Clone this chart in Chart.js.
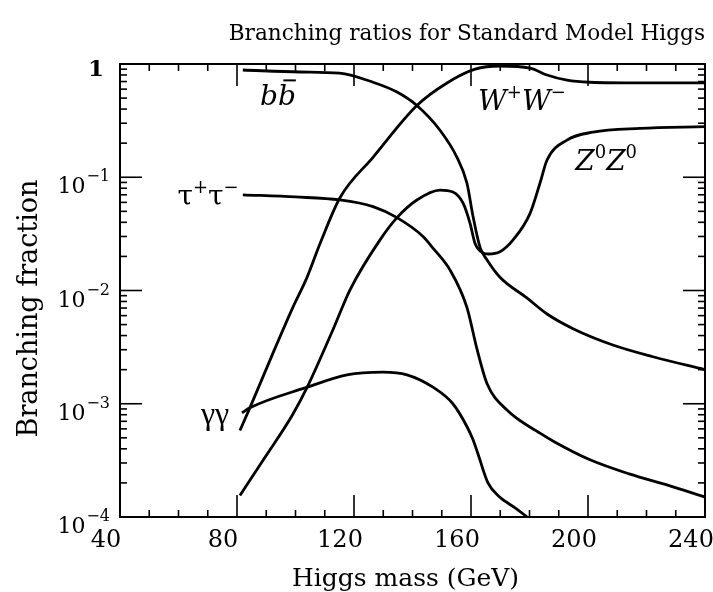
<!DOCTYPE html>
<html><head><meta charset="utf-8">
<script src="https://cdn.jsdelivr.net/npm/chart.js@4/dist/chart.umd.min.js"></script>
<style>html,body{margin:0;padding:0;background:#fff;overflow:hidden}</style>
</head><body>
<canvas id="c" width="713" height="592"></canvas>
<script>
// ---------- data ----------
const chartTitle = "Branching ratios for Standard Model Higgs";
const xTitle = "Higgs mass (GeV)";
const yTitle = "Branching fraction";
const xTickValues = [40, 80, 120, 160, 200, 240];
const yDecades = [1e-4, 1e-3, 1e-2, 1e-1, 1];
const yDecadeExps = ["−4", "−3", "−2", "−1", ""];

const bbMass = [82, 101.5, 115, 126.5, 134.7, 141.5, 149.4, 155.2, 158.6, 160.7, 163.1, 165.5, 169.9, 179.1, 186, 194.9, 208.5, 222.2, 240];
const bbBR   = [0.885, 0.85, 0.83, 0.69, 0.565, 0.43, 0.26, 0.15, 0.089, 0.045, 0.024, 0.0186, 0.0131, 0.0086, 0.0062, 0.0046, 0.0033, 0.0026, 0.0020];

const wwMass = [81, 84.4, 92.3, 99.1, 103.9, 108.4, 115.2, 126.5, 141.5, 151.8, 161.4, 169.9, 180.2, 186, 192.8, 200.7, 217.8, 240];
const wwBR   = [5.8e-4, 9.2e-4, 2.8e-3, 7.1e-3, 0.013, 0.026, 0.066, 0.15, 0.43, 0.68, 0.90, 0.96, 0.92, 0.80, 0.72, 0.69, 0.68, 0.68];

const zzMass = [81, 89.7, 99, 104, 112.8, 118.6, 128.9, 134.7, 141.5, 149.4, 153.8, 157.3, 159.7, 161.4, 164.1, 166, 169.9, 174.4, 180.2, 183.6, 186, 192.8, 201.7, 217.8, 240];
const zzBR   = [1.55e-4, 3.4e-4, 8.0e-4, 1.4e-3, 4.5e-3, 0.0101, 0.028, 0.044, 0.063, 0.077, 0.074, 0.059, 0.039, 0.026, 0.0215, 0.021, 0.022, 0.028, 0.048, 0.089, 0.142, 0.213, 0.25, 0.27, 0.28];

const tauMass = [82, 100, 115.2, 126.5, 134.7, 143.6, 147, 152.8, 158.6, 162.1, 165.5, 172.3, 183.6, 188.6, 200.7, 214.1, 227.5, 240];
const tauBR   = [0.070, 0.067, 0.063, 0.055, 0.044, 0.030, 0.0237, 0.0152, 0.0071, 0.0030, 0.0015, 8.8e-4, 5.5e-4, 4.6e-4, 3.2e-4, 2.4e-4, 1.9e-4, 1.5e-4];

const gamMass = [81.7, 84.4, 104, 117.6, 129.9, 138.1, 147, 153.8, 158.6, 160.7, 162.4, 165.8, 169.8, 175.2, 179.2];
const gamBR   = [8.3e-4, 9.2e-4, 1.4e-3, 1.8e-3, 1.9e-3, 1.8e-3, 1.4e-3, 1.0e-3, 6.3e-4, 4.8e-4, 3.6e-4, 2.0e-4, 1.5e-4, 1.2e-4, 1.0e-4];

// curve labels: "^" = next char superscript, "~" = next char overlined
const curveLabels = ["b~b", "W^+W^−", "Z^0Z^0", "τ^+τ^−", "γγ"];
const labelMass   = [94, 177.4, 206.2, 70.1, 72.5];
const labelBR     = [0.53, 0.48, 0.142, 0.0697, 8.4e-4];
const labelItalic = [true, true, true, false, false];

// ---------- chart ----------
const SERIF = '"DejaVu Serif", serif';
const TIMES = '"Liberation Serif", serif';
const pts = (m, b) => m.map((v, i) => ({x: v, y: b[i]}));
const series = [pts(bbMass, bbBR), pts(wwMass, wwBR), pts(zzMass, zzBR), pts(tauMass, tauBR), pts(gamMass, gamBR)];

function drawRich(ctx, str, cx, cy, size, italic, family) {
  const tokens = [];
  for (let i = 0; i < str.length; i++) {
    const ch = str[i];
    if (ch === '^') { tokens.push({t: str[++i], sup: true}); }
    else if (ch === '~') { tokens.push({t: str[++i], bar: true}); }
    else tokens.push({t: ch});
  }
  const mainF = (italic ? 'italic ' : '') + size + 'px ' + family;
  const supF = Math.round(size * 0.65) + 'px ' + family;
  let total = 0;
  tokens.forEach(tk => { ctx.font = tk.sup ? supF : mainF; tk.w = ctx.measureText(tk.t).width; total += tk.w; });
  let x = cx - total / 2;
  const base = cy + size * 0.35;
  ctx.textAlign = 'left'; ctx.textBaseline = 'alphabetic';
  tokens.forEach(tk => {
    ctx.font = tk.sup ? supF : mainF;
    ctx.fillText(tk.t, x, tk.sup ? base - size * 0.42 : base);
    if (tk.bar) {
      ctx.beginPath(); ctx.lineWidth = 2;
      ctx.moveTo(x + tk.w * 0.3, base - size * 0.88); ctx.lineTo(x + tk.w * 1.0, base - size * 0.88); ctx.stroke();
    }
    x += tk.w;
  });
}

const deco = {
  id: 'deco',
  afterDraw(chart) {
    const {ctx, chartArea: a, scales: {x, y}} = chart;
    ctx.save();
    ctx.strokeStyle = '#000'; ctx.fillStyle = '#000';
    const seg = (x1, y1, x2, y2) => { ctx.beginPath(); ctx.moveTo(x1, y1); ctx.lineTo(x2, y2); ctx.stroke(); };
    // frame
    ctx.lineWidth = 2;
    ctx.strokeRect(a.left, a.top, a.right - a.left, a.bottom - a.top);
    // x ticks (minor every 10, major every 40)
    ctx.lineWidth = 1.6;
    for (let m = x.min; m <= x.max; m += 10) {
      const px = x.getPixelForValue(m);
      const len = ((m - x.min) % 40 === 0) ? 22 : 7;
      seg(px, a.bottom, px, a.bottom - len);
      seg(px, a.top, px, a.top + len);
    }
    // y ticks
    for (let e = -4; e <= 0; e++) {
      for (let k = 1; k <= 9; k++) {
        const v = k * Math.pow(10, e);
        if (v > 1.0000001) break;
        const py = y.getPixelForValue(v);
        const len = k === 1 ? 22 : 7;
        seg(a.left, py, a.left + len, py);
        seg(a.right, py, a.right - len, py);
      }
    }
    // y tick labels
    ctx.textBaseline = 'alphabetic';
    yDecades.forEach((v, i) => {
      const py = y.getPixelForValue(v);
      const exp = yDecadeExps[i];
      const rightX = a.left - 10;
      if (!exp) {
        ctx.font = 'bold 23px ' + SERIF; ctx.textAlign = 'right';
        ctx.fillText('1', rightX - 6, py + 12);
        return;
      }
      ctx.font = '16px ' + SERIF;
      const ew = ctx.measureText(exp).width;
      ctx.textAlign = 'left';
      ctx.fillText(exp, rightX - ew, py + 4);
      ctx.font = '22px ' + SERIF; ctx.textAlign = 'right';
      ctx.fillText('10', rightX - ew - 1, py + 16);
    });
    // titles
    ctx.font = '21.6px ' + SERIF; ctx.textAlign = 'right';
    ctx.fillText(chartTitle, a.right, 40);
    ctx.font = '25px ' + SERIF; ctx.textAlign = 'center';
    ctx.fillText(xTitle, (a.left + a.right) / 2 - 7, 586);
    ctx.save();
    ctx.translate(37, (a.top + a.bottom) / 2 + 18);
    ctx.rotate(-Math.PI / 2);
    ctx.font = '27px ' + SERIF; ctx.textAlign = 'center';
    ctx.fillText(yTitle, 0, 0);
    ctx.restore();
    // curve labels
    curveLabels.forEach((s, i) => {
      const fam = (s === 'γγ') ? TIMES : SERIF;
      const size = (s === 'γγ') ? 32 : 28;
      drawRich(ctx, s, x.getPixelForValue(labelMass[i]), y.getPixelForValue(labelBR[i]), size, labelItalic[i], fam);
    });
    ctx.restore();
  }
};

new Chart(document.getElementById('c'), {
  type: 'line',
  data: {
    datasets: series.map(d => ({
      data: d, borderColor: '#000', borderWidth: 2.8, pointRadius: 0,
      cubicInterpolationMode: 'monotone', fill: false
    }))
  },
  options: {
    responsive: false, animation: false, devicePixelRatio: 1,
    layout: {padding: {left: 0, right: 8, top: 64, bottom: 0}},
    plugins: {legend: {display: false}, tooltip: {enabled: false}, title: {display: false}},
    scales: {
      x: {
        type: 'linear', min: 40, max: 240,
        afterBuildTicks: s => { s.ticks = xTickValues.map(v => ({value: v})); },
        grid: {display: false, drawTicks: false}, border: {display: false},
        ticks: {font: {family: SERIF, size: 24}, color: '#000', padding: 9, labelOffset: -14, maxRotation: 0, autoSkip: false},
        afterFit: s => { s.height = 75; s.paddingLeft = 0; s.paddingRight = 0; }
      },
      y: {
        type: 'logarithmic', min: 1e-4, max: 1,
        grid: {display: false, drawTicks: false}, border: {display: false},
        ticks: {display: false},
        afterFit: s => { s.width = 120; s.paddingTop = 0; s.paddingBottom = 0; }
      }
    }
  },
  plugins: [deco]
});
</script>
</body></html>
